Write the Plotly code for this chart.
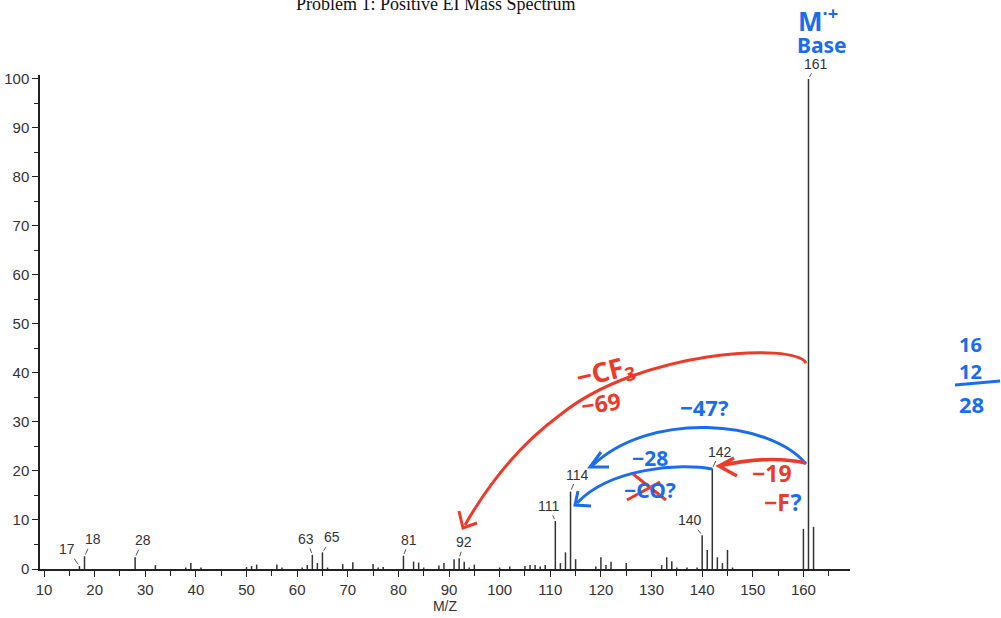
import plotly.graph_objects as go

# ---- data ----
mz = [17, 18, 28, 32, 38, 39, 41, 50, 51, 52, 56, 57, 61, 62, 63, 64, 65, 66,
      69, 71, 75, 76, 77, 81, 83, 84, 85, 88, 89, 91, 92, 93, 94, 95, 100, 102,
      105, 106, 107, 108, 109, 111, 112, 113, 114, 115, 119, 120, 121, 122, 125,
      132, 133, 134, 135, 137, 139, 140, 141, 142, 143, 144, 145, 146, 160, 161, 162]
intensity = [0.6, 2.6, 2.4, 0.8, 0.3, 1.2, 0.3, 0.4, 0.6, 0.9, 0.9, 0.3, 0.3, 0.8, 2.9, 1.2, 3.4, 0.3,
             1.0, 1.4, 1.0, 0.3, 0.4, 2.7, 1.5, 1.3, 0.3, 0.7, 1.2, 2.0, 2.2, 1.5, 0.3, 0.9, 0.3, 0.5,
             0.6, 0.8, 0.8, 0.5, 0.8, 9.8, 1.2, 3.4, 15.8, 2.0, 0.5, 2.4, 0.8, 1.5, 1.2,
             0.8, 2.4, 1.6, 0.3, 0.3, 0.3, 6.9, 3.9, 20.5, 2.4, 1.2, 3.9, 0.3, 8.2, 100.0, 8.6]
label_mz = [17, 18, 28, 63, 65, 81, 92, 111, 114, 140, 142, 161]
x_ticks = list(range(10, 170, 10))
y_ticks = list(range(0, 110, 10))

W, H = 1001, 618
L, R, T, B = 40, 151, 75, 49
PW, PH = W - L - R, H - T - B


def P(x, y):
    """pixel -> paper coords"""
    return (x - L) / PW, (H - B - y) / PH


def path(cmds):
    out = []
    for c in cmds:
        if isinstance(c, str):
            out.append(c)
        else:
            px, py = P(*c)
            out.append(f"{px:.5f},{py:.5f}")
    return " ".join(out)


# stick spectrum
xs, ys = [], []
for m, v in zip(mz, intensity):
    xs += [m, m, None]
    ys += [0, v, None]

fig = go.Figure()
fig.add_trace(go.Scatter(x=xs, y=ys, mode="lines",
                         line=dict(color="#333333", width=1.5),
                         hoverinfo="skip", showlegend=False))

annotations = []
offsets = {17: (-12, -17), 18: (8, -17), 28: (8, -17), 63: (-6, -16), 65: (10, -15),
           81: (6, -16), 92: (5, -16), 111: (-7, -15), 114: (7, -17), 140: (-12, -15),
           142: (8, -17), 161: (8, -15)}
for m in label_mz:
    v = intensity[mz.index(m)]
    ax, ay = offsets[m]
    annotations.append(dict(x=m, y=v, xref="x", yref="y", text=str(m), showarrow=True,
                            arrowhead=0, arrowwidth=1, arrowcolor="#555555", ax=ax, ay=ay,
                            standoff=2, font=dict(family="Liberation Sans, Arial", size=14,
                                                  color="#333333")))

# title (cut off at top, as in the source)
tx, ty = P(435, 4)
annotations.append(dict(x=tx, y=ty, xref="paper", yref="paper", xanchor="center", yanchor="middle",
                        text="Problem 1: Positive EI Mass Spectrum", showarrow=False,
                        font=dict(family="Liberation Serif, Times New Roman", size=18, color="#111111")))

RED = "#ee3a2a"
BLUE = "#1a6cf0"
HF = "Noto Sans, DejaVu Sans"


def txt(x, y, s, color, size, angle=0):
    px, py = P(x, y)
    annotations.append(dict(x=px, y=py, xref="paper", yref="paper", xanchor="center",
                            yanchor="middle", text="<b>%s</b>" % s, showarrow=False, textangle=angle,
                            font=dict(family=HF, size=size, color=color)))


txt(818, 20, "M<sup>·+</sup>", BLUE, 26)
txt(822, 45, "Base", BLUE, 21)
txt(605, 372, "−CF<sub>3</sub>", RED, 27, -14)
txt(601, 403, "−69", RED, 23, -8)
txt(704, 407, "−47?", BLUE, 22)
txt(650, 458, "−28", BLUE, 21)
txt(650, 490, "−CO?", BLUE, 21)
txt(772, 473, "−19", RED, 23)
txt(782, 502, "−F<span style='color:%s'>?</span>" % BLUE, RED, 23)
txt(970, 345, "16", BLUE, 20)
txt(970, 371, "12", BLUE, 20)
txt(971, 404, "28", BLUE, 22)

shapes = []


def add_path(cmds, color, width):
    shapes.append(dict(type="path", xref="paper", yref="paper", path=path(cmds),
                       line=dict(color=color, width=width)))


# red -CF3 arc
add_path(["M", (806, 363), "C", (795, 342), (640, 350), (560, 415),
          "C", (515, 448), (485, 490), (465, 525)], RED, 3)
add_path(["M", (459, 511), "L", (463, 528), "L", (477, 523)], RED, 3)
# blue -47 arc
add_path(["M", (806, 464), "C", (770, 420), (650, 410), (592, 466)], BLUE, 3)
add_path(["M", (601, 452), "L", (590, 467), "L", (609, 467)], BLUE, 3)
# blue -28 arc
add_path(["M", (712, 469), "C", (680, 463), (610, 468), (577, 503)], BLUE, 3)
add_path(["M", (578, 491), "L", (575, 505), "L", (591, 506)], BLUE, 3)
# red -19 arrow
add_path(["M", (806, 463), "C", (780, 457), (750, 459), (719, 466)], RED, 3.5)
add_path(["M", (734, 458), "L", (719, 466), "L", (737, 476)], RED, 3.5)
# red cross over "CO"
add_path(["M", (633, 474), "L", (666, 500)], RED, 3)
add_path(["M", (627, 500), "L", (660, 482)], RED, 3)
# fraction bar
add_path(["M", (955, 385), "L", (1000, 381)], BLUE, 3)

fig.update_layout(
    width=W, height=H,
    margin=dict(l=L, r=R, t=T, b=B, pad=0, autoexpand=False),
    paper_bgcolor="white", plot_bgcolor="white",
    showlegend=False,
    annotations=annotations,
    shapes=shapes,
    xaxis=dict(range=[9.21, 169.2], tickvals=x_ticks, ticktext=[str(v) for v in x_ticks],
               automargin=False,
               showgrid=False, zeroline=False, showline=True, linecolor="#222222", linewidth=1.5,
               ticks="outside", ticklen=6, tickwidth=1.2, tickcolor="#222222",
               minor=dict(dtick=5, tick0=0, ticks="outside", ticklen=5, tickcolor="#222222",
                          tickwidth=1.2, showgrid=False),
               tickfont=dict(family="Liberation Sans, Arial", size=15, color="#333333"),
               title=dict(text="M/Z", standoff=0,
                          font=dict(family="Liberation Sans, Arial", size=14, color="#333333"))),
    yaxis=dict(range=[0, 100.8], tickvals=y_ticks, ticktext=[str(v) for v in y_ticks],
               automargin=False,
               showgrid=False, zeroline=False, showline=True, linecolor="#222222", linewidth=1.5,
               ticks="outside", ticklen=6, tickwidth=1.2, tickcolor="#222222",
               minor=dict(dtick=5, tick0=0, ticks="outside", ticklen=4, tickcolor="#222222",
                          tickwidth=1.2, showgrid=False),
               tickfont=dict(family="Liberation Sans, Arial", size=15, color="#333333")),
)

fig.write_html("out.html")
